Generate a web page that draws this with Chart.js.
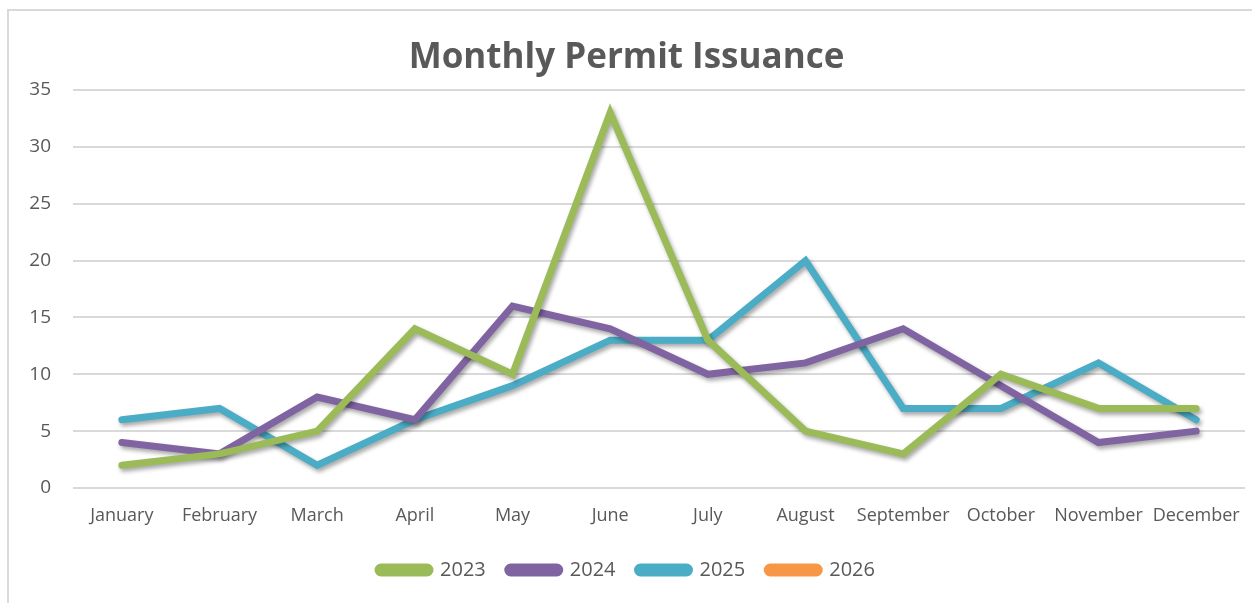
<!DOCTYPE html>
<html>
<head>
<meta charset="utf-8">
<title>Monthly Permit Issuance</title>
<script src="https://cdn.jsdelivr.net/npm/chart.js@4/dist/chart.umd.min.js"></script>
<style>
  body { margin: 0; background: #fff; }
  #frame { position: absolute; left: 7px; top: 9px; width: 1270px; height: 620px; border: 2px solid #d9d9d9; }
  #wrap { position: absolute; left: 0; top: 0; width: 1252px; height: 603px; }
</style>
</head>
<body>
<div id="frame"></div>
<div id="wrap"><canvas id="myChart"></canvas></div>
<script>
const months = ['January', 'February', 'March', 'April', 'May', 'June', 'July', 'August', 'September', 'October', 'November', 'December'];
const permits2023 = [2, 3, 5, 14, 10, 33, 13, 5, 3, 10, 7, 7];
const permits2024 = [4, 3, 8, 6, 16, 14, 10, 11, 14, 9, 4, 5];
const permits2025 = [6, 7, 2, 6, 9, 13, 13, 20, 7, 7, 11, 6];
const permits2026 = [];

const txt = '#595959';

// soft drop shadow under each line, like the office chart
const lineShadow = {
    id: 'lineShadow',
    beforeDatasetDraw(chart) {
        const ctx = chart.ctx;
        ctx.save();
        ctx.shadowColor = 'rgba(0,0,0,0.35)';
        ctx.shadowBlur = 4;
        ctx.shadowOffsetX = 2;
        ctx.shadowOffsetY = 3;
    },
    afterDatasetDraw(chart) {
        chart.ctx.restore();
    }
};

function series(label, data, color) {
    return {
        label: label,
        data: data,
        borderColor: color,
        backgroundColor: color,
        borderWidth: 7,
        borderCapStyle: 'round',
        pointRadius: 0,
        pointHoverRadius: 0,
        tension: 0,
        fill: false
    };
}

const ctx = document.getElementById('myChart');
const myChart = new Chart(ctx, {
    type: 'line',
    data: {
        labels: months,
        datasets: [
            series('2023', permits2023, '#9BBB59'),
            series('2024', permits2024, '#8064A2'),
            series('2025', permits2025, '#4BACC6'),
            series('2026', permits2026, '#F79646')
        ]
    },
    plugins: [lineShadow],
    options: {
        responsive: true,
        maintainAspectRatio: false,
        animation: false,
        layout: { padding: { left: 8, right: 7, top: 0, bottom: 13 } },
        plugins: {
            title: {
                display: true,
                text: 'Monthly Permit Issuance',
                color: txt,
                font: { family: 'Open Sans', size: 35, weight: 'bold' },
                padding: { top: 37, bottom: 11 }
            },
            legend: {
                position: 'bottom',
                labels: {
                    color: txt,
                    font: { family: 'Open Sans', size: 20 },
                    boxWidth: 52,
                    boxHeight: 6,
                    useBorderRadius: true,
                    borderRadius: 3,
                    padding: 22
                }
            },
            tooltip: { enabled: false }
        },
        scales: {
            x: {
                offset: true,
                grid: { display: false },
                border: { display: false },
                ticks: { color: txt, font: { family: 'Open Sans', size: 18 }, padding: 9, maxRotation: 0, autoSkip: false },
                afterFit(scale) { scale.height = 50; }
            },
            y: {
                min: 0,
                max: 35,
                ticks: { stepSize: 5, color: txt, font: { family: 'Open Sans', size: 19 }, padding: 22 },
                grid: { color: '#d9d9d9', lineWidth: 2, drawTicks: false },
                border: { display: false },
                afterFit(scale) { scale.width = 65; }
            }
        }
    }
});
</script>
</body>
</html>
